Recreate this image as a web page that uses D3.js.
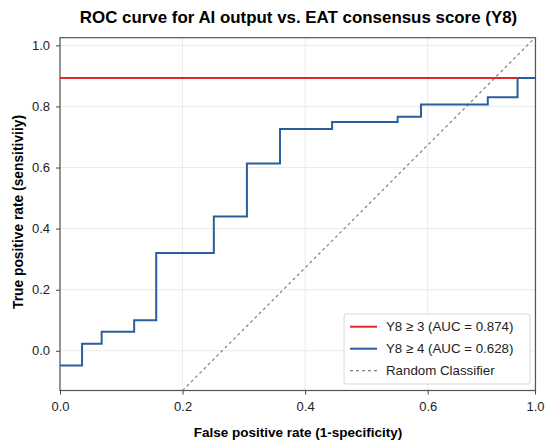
<!DOCTYPE html>
<html>
<head>
<meta charset="utf-8">
<script src="https://d3js.org/d3.v7.min.js"></script>
<style>
    body { margin: 0; background: #fff; }
    svg { font-family: "Liberation Sans", Arial, sans-serif; }
    .grid line { stroke: #ebebeb; stroke-width: 1; }
    .axis path, .axis line { stroke: #444; }
    .axis text { font-size: 13px; fill: #222; }
</style>
</head>
<body>
<script>
    // tick labels as printed on the reference
    var xTicks = [0.0, 0.2, 0.4, 0.6, 1.0];
    var yTicks = [0.0, 0.2, 0.4, 0.6, 0.8, 1.0];

    // ROC vertices (fpr, tpr)
    var fprY3 = [0.0, 0.935];
    var tprY3 = [0.893, 0.893];

    var fprY4 = [0.0, 0.036, 0.068, 0.121, 0.157, 0.251, 0.305, 0.359, 0.444, 0.551, 0.589, 0.824, 0.935, 1.0];
    var tprY4 = [-0.048, 0.023, 0.062, 0.100, 0.320, 0.440, 0.613, 0.726, 0.749, 0.766, 0.806, 0.830, 0.893, 0.893];

    // reference line as drawn (clipped to the plot corners)
    var fprRand = [0.2, 1.0];
    var tprRand = [-0.13, 1.025];

    var labels = ["Y8 \u2265 3 (AUC = 0.874)", "Y8 \u2265 4 (AUC = 0.628)", "Random Classifier"];
    var colors = ["#e3262b", "#2b5e9e", "#808080"];

    var width = 550, height = 445;
    var plot = {left: 60, right: 535.5, top: 37.7, bottom: 390.5};

    var svg = d3.select("body").append("svg")
        .attr("width", width)
        .attr("height", height);

    // the x axis of the original is stretched below 0.6
    var x = d3.scaleLinear().domain([0, 0.6, 1.0]).range([plot.left, 427.7, 535]);
    var y = d3.scaleLinear().domain([-0.13, 1.025]).range([plot.bottom, plot.top]);

    // grid
    var grid = svg.append("g").attr("class", "grid");
    grid.selectAll(".gx").data(xTicks).enter().append("line")
        .attr("x1", function (d) { return x(d); })
        .attr("x2", function (d) { return x(d); })
        .attr("y1", plot.top).attr("y2", plot.bottom);
    grid.selectAll(".gy").data(yTicks).enter().append("line")
        .attr("x1", plot.left).attr("x2", plot.right)
        .attr("y1", function (d) { return y(d); })
        .attr("y2", function (d) { return y(d); });

    // frame
    svg.append("rect")
        .attr("x", plot.left).attr("y", plot.top)
        .attr("width", plot.right - plot.left)
        .attr("height", plot.bottom - plot.top)
        .attr("fill", "none")
        .attr("stroke", "#555")
        .attr("stroke-width", 1.2);

    // axes
    svg.append("g").attr("class", "axis")
        .attr("transform", "translate(0," + plot.bottom + ")")
        .call(d3.axisBottom(x).tickValues(xTicks).tickFormat(d3.format(".1f")).tickSizeOuter(0).tickSize(4).tickPadding(7))
        .call(function (g) { g.select(".domain").remove(); });
    svg.append("g").attr("class", "axis")
        .attr("transform", "translate(" + plot.left + ",0)")
        .call(d3.axisLeft(y).tickValues(yTicks).tickFormat(d3.format(".1f")).tickSizeOuter(0).tickSize(4).tickPadding(6))
        .call(function (g) { g.select(".domain").remove(); });

    function pts(xs, ys) {
        return xs.map(function (v, i) { return [v, ys[i]]; });
    }

    var line = d3.line()
        .x(function (d) { return x(d[0]); })
        .y(function (d) { return y(d[1]); });

    svg.append("path")
        .attr("d", line(pts(fprRand, tprRand)))
        .attr("fill", "none")
        .attr("stroke", colors[2])
        .attr("stroke-width", 1.2)
        .attr("stroke-dasharray", "3,3");

    svg.append("path")
        .attr("d", line.curve(d3.curveStepAfter)(pts(fprY4, tprY4)))
        .attr("fill", "none")
        .attr("stroke", colors[1])
        .attr("stroke-width", 2);

    svg.append("path")
        .attr("d", line.curve(d3.curveLinear)(pts(fprY3, tprY3)))
        .attr("fill", "none")
        .attr("stroke", colors[0])
        .attr("stroke-width", 2);

    // legend
    var lg = svg.append("g").attr("transform", "translate(344,314)");
    lg.append("rect")
        .attr("width", 186).attr("height", 70)
        .attr("rx", 2)
        .attr("fill", "#fff")
        .attr("stroke", "#d8d8d8");
    var item = lg.selectAll(".item").data(labels).enter().append("g")
        .attr("transform", function (d, i) { return "translate(0," + (12.7 + i * 22) + ")"; });
    item.append("line")
        .attr("x1", 6).attr("x2", 33)
        .attr("stroke", function (d, i) { return colors[i]; })
        .attr("stroke-width", function (d, i) { return i == 2 ? 1.2 : 2; })
        .attr("stroke-dasharray", function (d, i) { return i == 2 ? "3,3" : null; });
    item.append("text")
        .attr("x", 42).attr("dy", "0.35em")
        .style("font-size", "13.3px")
        .attr("fill", "#222")
        .text(function (d) { return d; });

    // titles
    svg.append("text")
        .attr("x", 298.5).attr("y", 23)
        .attr("text-anchor", "middle")
        .style("font-size", "16.9px").style("font-weight", "bold")
        .text("ROC curve for AI output vs. EAT consensus score (Y8)");
    svg.append("text")
        .attr("x", 298).attr("y", 437)
        .attr("text-anchor", "middle")
        .style("font-size", "13.5px").style("font-weight", "bold")
        .text("False positive rate (1-specificity)");
    svg.append("text")
        .attr("transform", "translate(23,212) rotate(-90)")
        .attr("text-anchor", "middle")
        .style("font-size", "13.8px").style("font-weight", "bold")
        .text("True positive rate (sensitiviiy)");
</script>
</body>
</html>
